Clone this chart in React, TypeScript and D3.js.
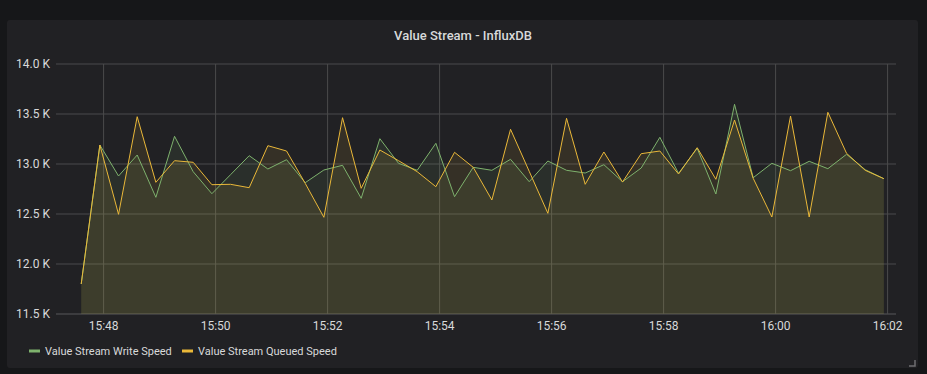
import * as d3 from 'd3';
import { useEffect, useRef } from 'react';

// samples every 20 s starting 15:47:36
const startTime = new Date(2018, 0, 1, 15, 47, 36);
const stepSeconds = 20;

const writeSpeed = [
  11800, 13190, 12880, 13090, 12667, 13277, 12923, 12703, 12893, 13083,
  12950, 13043, 12813, 12940, 12987, 12657, 13253, 13007, 12937, 13207,
  12673, 12967, 12937, 13047, 12823, 13030, 12937, 12910, 12993, 12823,
  12960, 13267, 12907, 13157, 12700, 13597, 12863, 13007, 12933, 13027,
  12953, 13097, 12943, 12853,
];

const queuedSpeed = [
  11800, 13190, 12497, 13473, 12817, 13033, 13017, 12793, 12797, 12763,
  13183, 13130, 12807, 12467, 13463, 12757, 13140, 13033, 12923, 12773,
  13117, 12967, 12640, 13347, 12927, 12507, 13457, 12797, 13120, 12820,
  13103, 13130, 12900, 13163, 12847, 13440, 12857, 12470, 13480, 12470,
  13517, 13107, 12937, 12853,
];

const seriesNames = ['Value Stream Write Speed', 'Value Stream Queued Speed'];
const seriesColors = ['#7EB26D', '#EAB839'];
const yTicks = [11500, 12000, 12500, 13000, 13500, 14000];

export default function App() {
  const ref = useRef<SVGSVGElement>(null);

  useEffect(() => {
    document.body.style.margin = '0';
    const svg = d3.select(ref.current);
    svg.selectAll('*').remove();

    const width = 927, height = 374;
    const left = 56, right = 896, top = 64, bottom = 314;
    const font = 'Roboto, "Open Sans", sans-serif';

    svg.append('rect').attr('width', width).attr('height', height).attr('fill', '#161719');
    svg.append('rect')
      .attr('x', 7).attr('y', 20).attr('width', 911).attr('height', 348)
      .attr('rx', 3).attr('fill', '#212124');

    svg.append('text')
      .attr('x', 463).attr('y', 40)
      .attr('text-anchor', 'middle')
      .attr('font-family', font).attr('font-size', 13).attr('font-weight', 500)
      .attr('fill', '#d8d9da')
      .text('Value Stream - InfluxDB');

    const times = writeSpeed.map((_, i) => d3.timeSecond.offset(startTime, i * stepSeconds));
    const x = d3.scaleTime()
      .domain([d3.timeSecond.offset(startTime, -27), d3.timeSecond.offset(times[times.length - 1], 13)])
      .range([left, right]);
    const y = d3.scaleLinear().domain([11500, 14000]).range([bottom, top]);

    const xTicks = x.ticks(d3.timeMinute.every(2)!);
    const fmtTime = d3.timeFormat('%H:%M');

    // grid
    svg.append('g').selectAll('line').data(yTicks).enter().append('line')
      .attr('x1', left).attr('x2', right)
      .attr('y1', d => y(d)).attr('y2', d => y(d))
      .attr('stroke', d => d === 11500 ? '#58585a' : '#4a4a4c').attr('stroke-width', 1);
    svg.append('g').selectAll('line').data(xTicks).enter().append('line')
      .attr('x1', d => x(d)).attr('x2', d => x(d))
      .attr('y1', top).attr('y2', bottom)
      .attr('stroke', '#4a4a4c').attr('stroke-width', 1);

    // y labels
    svg.append('g').selectAll('text').data(yTicks).enter().append('text')
      .attr('x', 50).attr('y', d => y(d) + 4)
      .attr('text-anchor', 'end')
      .attr('font-family', font).attr('font-size', 12)
      .attr('fill', '#d8d9da')
      .text(d => `${(d / 1000).toFixed(1)} K`);

    // x labels
    svg.append('g').selectAll('text').data(xTicks).enter().append('text')
      .attr('x', d => x(d)).attr('y', 330)
      .attr('text-anchor', 'middle')
      .attr('font-family', font).attr('font-size', 12)
      .attr('fill', '#d8d9da')
      .text(d => fmtTime(d));

    const series = [writeSpeed, queuedSpeed];

    series.forEach((vals, s) => {
      const area = d3.area<number>()
        .x((_, i) => x(times[i]))
        .y0(bottom)
        .y1(d => y(d));
      svg.append('path')
        .attr('d', area(vals))
        .attr('fill', seriesColors[s])
        .attr('fill-opacity', 0.1);
    });

    series.forEach((vals, s) => {
      const line = d3.line<number>()
        .x((_, i) => x(times[i]))
        .y(d => y(d));
      svg.append('path')
        .attr('d', line(vals))
        .attr('fill', 'none')
        .attr('stroke', seriesColors[s])
        .attr('stroke-width', 1);
    });

    // legend
    const legendX = [29, 182];
    seriesNames.forEach((name, s) => {
      svg.append('line')
        .attr('x1', legendX[s]).attr('x2', legendX[s] + 11)
        .attr('y1', 351).attr('y2', 351)
        .attr('stroke', seriesColors[s]).attr('stroke-width', 3);
      svg.append('text')
        .attr('x', legendX[s] + 16).attr('y', 355)
        .attr('font-family', font).attr('font-size', 11)
        .attr('fill', '#d8d9da')
        .text(name);
    });

    // resize handle
    svg.append('path')
      .attr('d', 'M909,366 L915,366 L915,360')
      .attr('fill', 'none').attr('stroke', '#6e6e70').attr('stroke-width', 1.5);
  }, []);

  return <svg ref={ref} width={927} height={374} style={{ display: 'block' }}></svg>;
}
